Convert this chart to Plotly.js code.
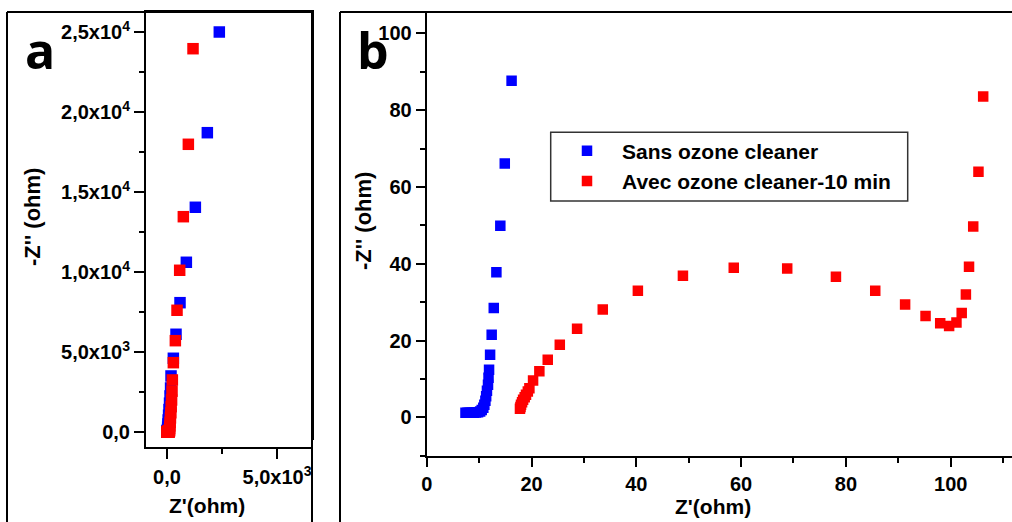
<!DOCTYPE html>
<html>
<head>
<meta charset="utf-8">
<script src="https://cdn.plot.ly/plotly-3.0.1.min.js"></script>
<style>html,body{margin:0;padding:0;background:#fff;}#chart{width:1012px;height:522px;}</style>
</head>
<body>
<div id="chart"></div>
<script>
// ---- Data (ohm) ----
const seriesNames = ["Sans ozone cleaner", "Avec ozone cleaner-10 min"];

const blueX = [7.4, 7.8, 8.2, 8.6, 9.0, 9.4, 9.8, 10.2, 10.5, 10.8, 11.0, 11.2, 11.35, 11.5, 11.7, 11.8, 11.9, 12.1, 12.4, 12.8, 13.3, 14.05, 14.9, 16.2,
  22, 30, 42, 56, 72, 92, 115, 138, 162, 182, 288, 409, 591, 879, 1288, 1833, 2377];
const blueY = [1.2, 1.2, 1.2, 1.2, 1.2, 1.25, 1.3, 1.5, 1.9, 2.5, 3.3, 4.3, 5.5, 6.9, 8.5, 10.3, 12.4, 16.3, 21.5, 28.5, 37.8, 49.9, 66.1, 87.7,
  150, 300, 500, 750, 1050, 1400, 1800, 2250, 2750, 3500, 4606, 6106, 8081, 10606, 14044, 18706, 25000];

const redX = [17.8, 17.9, 18.0, 18.2, 18.4, 18.7, 18.95, 19.3, 19.6, 20.3, 21.5, 23.1, 25.4, 28.7, 33.6, 40.3, 48.9, 58.6, 68.8, 78.1, 85.6, 91.3, 95.2, 98.0, 99.7, 101.1, 102.1, 102.9, 103.5, 104.3, 105.3, 106.2,
  112, 120, 130, 142, 156, 172, 190, 208, 228, 242, 288, 379, 455, 576, 742, 970, 1182];
const redY = [2.2, 2.7, 3.3, 3.9, 4.6, 5.2, 5.9, 6.7, 7.6, 9.6, 12.0, 15.0, 18.9, 23.1, 28.1, 33.0, 36.9, 39.0, 38.8, 36.6, 33.0, 29.4, 26.4, 24.5, 23.8, 24.7, 27.2, 32.0, 39.2, 49.7, 64.0, 83.6,
  120, 220, 380, 600, 880, 1200, 1580, 2000, 2550, 3250, 4331, 5706, 7606, 10106, 13456, 17981, 23956];

// tick labels
const aYTickVals = [0, 5000, 10000, 15000, 20000, 25000];
const aYTickText = ["0,0", "5,0x10<sup>3</sup>", "1,0x10<sup>4</sup>", "1,5x10<sup>4</sup>", "2,0x10<sup>4</sup>", "2,5x10<sup>4</sup>"];
const aXTickVals = [0, 5000];
const aXTickText = ["0,0", "5,0x10<sup>3</sup>"];

// ---- Layout helpers ----
const W = 1012, H = 522;
const px = x => x / W;
const py = y => 1 - y / H;

const FONT = "Liberation Sans, Arial, sans-serif";
const tickFont = {family: FONT, size: 20, color: "#000", weight: "bold"};
const BLUE = "#0000ff", RED = "#ff0000";

const traces = [
  {x: blueX, y: blueY, xaxis: "x", yaxis: "y", type: "scatter", mode: "markers", showlegend: false,
   marker: {symbol: "square", size: 11.5, color: BLUE}, name: seriesNames[0]},
  {x: redX, y: redY, xaxis: "x", yaxis: "y", type: "scatter", mode: "markers", showlegend: false,
   marker: {symbol: "square", size: 11.5, color: RED}, name: seriesNames[1]},
  {x: blueX, y: blueY, xaxis: "x2", yaxis: "y2", type: "scatter", mode: "markers",
   marker: {symbol: "square", size: 10.5, color: BLUE}, name: seriesNames[0]},
  {x: redX, y: redY, xaxis: "x2", yaxis: "y2", type: "scatter", mode: "markers",
   marker: {symbol: "square", size: 10.5, color: RED}, name: seriesNames[1]}
];

const axisCommon = {
  showgrid: false, zeroline: false, showline: true, linecolor: "#000", linewidth: 2,
  ticks: "outside", ticklen: 10, tickwidth: 2, tickcolor: "#000", tickfont: tickFont
};

const layout = {
  width: W, height: H,
  margin: {l: 0, r: 0, t: 0, b: 0, pad: 0},
  paper_bgcolor: "#fff", plot_bgcolor: "#fff",
  showlegend: true,
  xaxis: Object.assign({}, axisCommon, {
    domain: [px(146), px(312)], range: [-955, 6590], anchor: "y", mirror: true,
    tickmode: "array", tickvals: aXTickVals, ticktext: aXTickText, ticklabelstandoff: 1,
    minor: {tickmode: "linear", tick0: 0, dtick: 2500, ticklen: 5, tickwidth: 2, tickcolor: "#000", showgrid: false}
  }),
  yaxis: Object.assign({}, axisCommon, {
    domain: [py(447), py(12)], range: [-940, 26250], anchor: "x", mirror: true,
    tickmode: "array", tickvals: aYTickVals, ticktext: aYTickText,
    minor: {tickmode: "linear", tick0: 0, dtick: 2500, ticklen: 5, tickwidth: 2, tickcolor: "#000", showgrid: false}
  }),
  xaxis2: Object.assign({}, axisCommon, {
    domain: [px(426.7), 1], range: [0, 111.7], anchor: "y2", mirror: false,
    tickmode: "linear", tick0: 0, dtick: 20, ticklen: 9,
    minor: {tickmode: "linear", tick0: 0, dtick: 10, ticklen: 5, tickwidth: 2, tickcolor: "#000", showgrid: false}
  }),
  yaxis2: Object.assign({}, axisCommon, {
    domain: [py(455.7), py(12)], range: [-10, 105.6], anchor: "x2", mirror: false,
    tickmode: "linear", tick0: 0, dtick: 20, ticklen: 9,
    minor: {tickmode: "linear", tick0: 0, dtick: 10, ticklen: 5, tickwidth: 2, tickcolor: "#000", showgrid: false}
  }),
  legend: {
    x: px(552), y: py(130.5), xanchor: "left", yanchor: "top",
    bgcolor: "rgba(0,0,0,0)", borderwidth: 0,
    font: {family: FONT, size: 21, color: "#000", weight: "bold"},
    itemwidth: 60, tracegroupgap: 0
  },
  shapes: [
    // hide overflow of panel a tick label beyond its frame
    {type: "rect", xref: "paper", yref: "paper", x0: px(313), x1: px(339), y0: 0, y1: py(440),
     fillcolor: "#fff", line: {width: 0}, layer: "above"},
    // legend frame
    {type: "rect", xref: "paper", yref: "paper", x0: px(550.7), x1: px(907.7), y0: py(201), y1: py(132.3),
     fillcolor: "rgba(0,0,0,0)", line: {color: "#333", width: 1.5}, layer: "above"},
    // panel a outer border
    {type: "line", xref: "paper", yref: "paper", x0: px(7), x1: px(7), y0: py(12), y1: 0, line: {color: "#000", width: 2}, layer: "above"},
    {type: "line", xref: "paper", yref: "paper", x0: px(7), x1: px(312), y0: py(12), y1: py(12), line: {color: "#000", width: 2}, layer: "above"},
    {type: "line", xref: "paper", yref: "paper", x0: px(312), x1: px(312), y0: py(12), y1: 0, line: {color: "#000", width: 2}, layer: "above"},
    // panel b outer border
    {type: "line", xref: "paper", yref: "paper", x0: px(340), x1: px(340), y0: py(12), y1: 0, line: {color: "#000", width: 2}, layer: "above"},
    {type: "line", xref: "paper", yref: "paper", x0: px(340), x1: 1, y0: py(12), y1: py(12), line: {color: "#000", width: 2}, layer: "above"}
  ],
  annotations: [
    {text: "a", xref: "paper", yref: "paper", x: px(40), y: py(50), xanchor: "center", yanchor: "middle", showarrow: false,
     font: {family: "Open Sans, sans-serif", size: 50, color: "#000", weight: "bold"}},
    {text: "b", xref: "paper", yref: "paper", x: px(373), y: py(50), xanchor: "center", yanchor: "middle", showarrow: false,
     font: {family: "Open Sans, sans-serif", size: 50, color: "#000", weight: "bold"}},
    {text: "-Z'' (ohm)", xref: "paper", yref: "paper", x: px(33), y: py(217), xanchor: "center", yanchor: "middle", textangle: -90, showarrow: false,
     font: {family: FONT, size: 22, color: "#000", weight: "bold"}},
    {text: "Z'(ohm)", xref: "paper", yref: "paper", x: px(207), y: py(505), xanchor: "center", yanchor: "middle", showarrow: false,
     font: {family: FONT, size: 21, color: "#000", weight: "bold"}},
    {text: "-Z'' (ohm)", xref: "paper", yref: "paper", x: px(363), y: py(221), xanchor: "center", yanchor: "middle", textangle: -90, showarrow: false,
     font: {family: FONT, size: 22, color: "#000", weight: "bold"}},
    {text: "Z'(ohm)", xref: "paper", yref: "paper", x: px(713), y: py(506), xanchor: "center", yanchor: "middle", showarrow: false,
     font: {family: FONT, size: 21, color: "#000", weight: "bold"}}
  ]
};

Plotly.newPlot("chart", traces, layout, {staticPlot: true, displayModeBar: false});
</script>
</body>
</html>
